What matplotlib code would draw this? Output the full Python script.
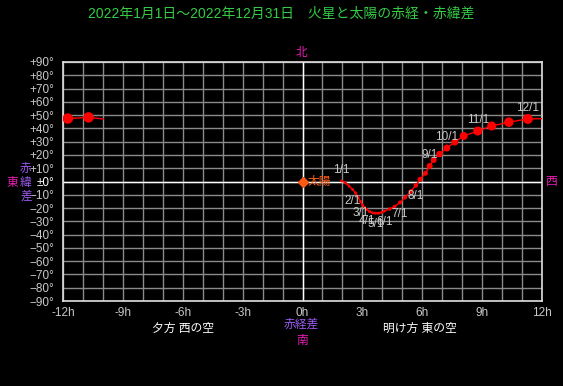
import matplotlib
matplotlib.use("Agg")
import matplotlib.pyplot as plt
import numpy as np

plt.rcParams['font.family'] = ['Liberation Sans', 'Noto Sans CJK JP', 'DejaVu Sans']

# dates every 10 days (1st, 11th, 21st) + year end
dates = ["1/1", "1/11", "1/21", "2/1", "2/11", "2/21", "3/1", "3/11", "3/21",
         "4/1", "4/11", "4/21", "5/1", "5/11", "5/21", "6/1", "6/11", "6/21",
         "7/1", "7/11", "7/21", "8/1", "8/11", "8/21", "9/1", "9/11", "9/21",
         "10/1", "10/11", "10/21", "11/1", "11/11", "11/21", "12/1", "12/11",
         "12/21", "12/31"]
# sun RA - mars RA (hours)
d_ra = [1.96, 2.16, 2.33, 2.51, 2.66, 2.78, 2.91, 3.01, 3.11,
        3.21, 3.36, 3.51, 3.66, 3.81, 3.98, 4.11, 4.37, 4.62,
        4.89, 5.14, 5.42, 5.68, 5.89, 6.16, 6.37, 6.57, 6.87,
        7.23, 7.63, 8.08, 8.78, 9.48, 10.34, 11.29, 12.24,
        13.28, 14.02]
# mars dec - sun dec (deg)
d_dec = [0.4, -1.1, -3.4, -6.0, -8.7, -11.7, -15.1, -17.7, -19.6,
         -21.1, -22.6, -23.6, -23.9, -23.9, -23.2, -22.2, -20.7, -18.8,
         -15.8, -12.0, -7.5, -2.9, 1.7, 6.2, 11.7, 16.2, 20.7,
         25.2, 29.7, 34.3, 38.0, 41.8, 44.7, 47.1, 47.4,
         48.3, 47.1]
# apparent dot diameter in pixels
dot_px = [3, 3, 3, 3, 3, 3, 3, 3, 3,
          3, 3, 3, 3, 3, 3, 3, 3.5, 3.5,
          4, 4, 4.5, 4.5, 5, 5, 6, 6, 6.5,
          7, 7, 8, 9, 9, 9.5, 10, 10.5,
          10.5, 0]

y_ticks = list(range(-90, 91, 10))
x_ticks = [-12, -9, -6, -3, 0, 3, 6, 9, 12]

grey = '#c8c8c8'
grid_c = '#8a8a8a'
mag = '#e81eb4'
purple = '#9a5cf0'

fig = plt.figure(figsize=(5.63, 3.86), dpi=100, facecolor='black')
ax = fig.add_axes([63/563, 85/386, 479/563, 239/386])
ax.set_facecolor('black')
ax.set_xlim(-12, 12)
ax.set_ylim(-90, 90)

ax.set_xticks(x_ticks)
ax.set_xticks(np.arange(-12, 13, 1), minor=True)
ax.set_yticks(y_ticks)
ax.set_xticklabels([f"{t}h" for t in x_ticks], color=grey, fontsize=8.5)
ylab = []
for t in y_ticks:
    if t > 0:
        ylab.append(f"+{t}°")
    elif t < 0:
        ylab.append(f"\u2212{-t}°")
    else:
        ylab.append("±0°")
ax.set_yticklabels(ylab, color=grey, fontsize=8.5)
ax.get_yticklabels()[9].set_color('white')
ax.tick_params(which='both', length=0)
ax.tick_params(axis='y', pad=6)
ax.tick_params(axis='x', pad=4)
ax.grid(which='both', color=grid_c, linewidth=1)
ax.set_axisbelow(True)
ax.axhline(0, color='white', linewidth=1, zorder=1)
ax.axvline(0, color='white', linewidth=1, zorder=1)
for s in ax.spines.values():
    s.set_color('#e0e0e0')
    s.set_linewidth(1.2)

h = np.array(d_ra)
d = np.array(d_dec)
# line, drawn twice so it wraps across +-12h
ax.plot(h, d, color='red', linewidth=1, zorder=3)
ax.plot(h - 24, d, color='red', linewidth=1, zorder=3)
hw = np.where(h > 12, h - 24, h)
sz = (np.array(dot_px) * 0.72) ** 2
ax.scatter(hw, d, s=sz, color='red', edgecolors='none', zorder=4)

# month labels
for i, lab in enumerate(dates):
    if lab.endswith("/1") and lab != "12/31":
        off = 8 if d[i] >= 0 else -8
        ax.annotate(lab, (hw[i], d[i]), xytext=(0, off), textcoords='offset points',
                    ha='center', va='center', color=grey, fontsize=8.5, zorder=5)

# sun
ax.plot([0], [0], marker='D', markersize=5, color='#ff5a14', zorder=5)
ax.annotate("太陽", (0, 0), xytext=(4, 0), textcoords='offset points',
            ha='left', va='center', color='#ff5a14', fontsize=8.5)

W, H = 563, 386
def ft(x, y, s, c, fs=8.5):
    fig.text(x / W, 1 - y / H, s, color=c, fontsize=fs, ha='center', va='center')

ft(281, 14, "2022年1月1日～2022年12月31日　火星と太陽の赤経・赤緯差", '#33cc44', 10)
ft(302, 53, "北", mag)
ft(551, 182, "西", mag)
ft(12, 183, "東", mag)
ft(26, 169, "赤", purple)
ft(26, 183, "緯", purple)
ft(26, 197, "差", purple)
ft(183, 329, "夕方 西の空", 'white')
ft(420, 329, "明け方 東の空", 'white')
ft(301, 325, "赤経差", purple)
ft(302, 341, "南", mag)

fig.savefig("out.png", dpi=100, facecolor='black')
